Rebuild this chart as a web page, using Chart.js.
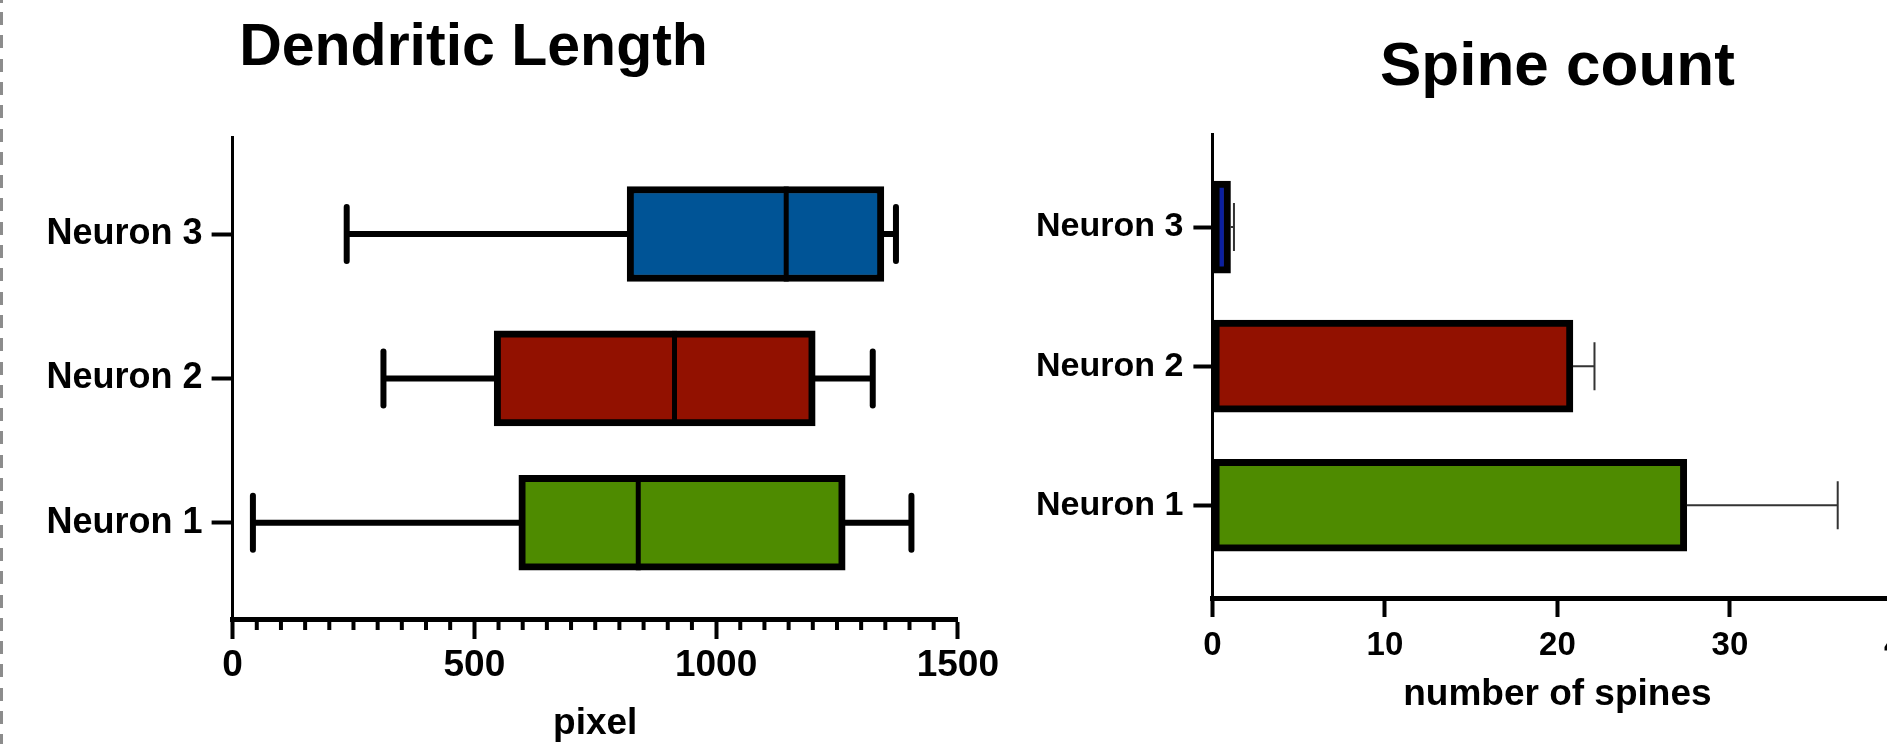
<!DOCTYPE html>
<html>
<head>
<meta charset="utf-8">
<script src="https://cdn.jsdelivr.net/npm/chart.js@4.4.1/dist/chart.umd.min.js"></script>
<style>
  html, body { margin: 0; padding: 0; background: #fff; }
  body { width: 1887px; height: 744px; overflow: hidden; position: relative; }
  #left { position: absolute; left: -12px; top: 0; }
  #right { position: absolute; left: 1000px; top: 0; }
  #edge {
    position: absolute; left: 0; top: 0; width: 3px; height: 744px;
    background: repeating-linear-gradient(to bottom, #8c8c8c 0 13px, transparent 13px 23.3px);
    background-position: 0 12px;
  }
</style>
</head>
<body>
<div id="edge"></div>
<canvas id="left" width="1016" height="760"></canvas>
<canvas id="right" width="960" height="760"></canvas>
<script>
// categories (bottom to top)
const categories = ['Neuron 1', 'Neuron 2', 'Neuron 3'];

// dendritic length box plot (pixel)
const lengthMin = [42, 312, 236];
const lengthQ1 = [592, 541, 816];
const lengthMedian = [839, 914, 1145];
const lengthQ3 = [1267, 1205, 1347];
const lengthMax = [1404, 1324, 1372];

// spine count mean and upper error
const spineMean = [27.5, 20.9, 1.05];
const spineError = [8.75, 1.25, 0.2];

const boxColors = ['#4e8b00', '#921100', '#005496'];
const barColors = ['#4e8b00', '#921100', '#0b1fa0'];

Chart.defaults.font.family = '"Liberation Sans", Arial, sans-serif';
Chart.defaults.font.weight = 'bold';
Chart.defaults.color = '#000';

function categoryAxis(width, fontSize, tickLen, pad){
    return {
        type: 'linear',
        min: 1 / 3,
        max: 11 / 3,
        offset: false,
        afterBuildTicks: (s) => { s.ticks = categories.map((c, i) => ({value: i + 1})); },
        afterFit: (s) => { s.width = width; },
        ticks: {
            callback: (v) => categories[Math.round(v) - 1],
            font: {size: fontSize, weight: 'bold'},
            color: '#000',
            padding: pad
        },
        grid: {offset: false, drawOnChartArea: false, tickLength: tickLen, tickWidth: 4, tickColor: '#000'},
        border: {color: '#000', width: 3}
    };
}

const whiskers = {
    id: 'whiskers',
    beforeDatasetsDraw(chart){
        const {ctx} = chart;
        const x = chart.scales.x, y = chart.scales.y;
        ctx.save();
        ctx.strokeStyle = '#000';
        categories.forEach((c, i) => {
            let py = y.getPixelForValue(i + 1);
            ctx.lineWidth = 6;
            ctx.lineCap = 'butt';
            ctx.beginPath();
            ctx.moveTo(x.getPixelForValue(lengthMin[i]), py);
            ctx.lineTo(x.getPixelForValue(lengthMax[i]), py);
            ctx.stroke();
            ctx.lineCap = 'round';
            [lengthMin[i], lengthMax[i]].forEach((v) => {
                let px = x.getPixelForValue(v);
                ctx.beginPath();
                ctx.moveTo(px, py - 27);
                ctx.lineTo(px, py + 27);
                ctx.stroke();
            });
        });
        ctx.restore();
    },
    afterDatasetsDraw(chart){
        const {ctx} = chart;
        const x = chart.scales.x;
        const meta = chart.getDatasetMeta(0);
        ctx.save();
        ctx.strokeStyle = '#000';
        ctx.lineWidth = 5;
        meta.data.forEach((bar, i) => {
            let px = x.getPixelForValue(lengthMedian[i]);
            ctx.beginPath();
            ctx.moveTo(px, bar.y - bar.height / 2);
            ctx.lineTo(px, bar.y + bar.height / 2);
            ctx.stroke();
        });
        // minor ticks every 50
        ctx.lineWidth = 4;
        for(let v = 50; v < x.max; v += 50){
            if(v % 500 === 0) continue;
            let px = x.getPixelForValue(v);
            ctx.beginPath();
            ctx.moveTo(px, x.top);
            ctx.lineTo(px, x.top + 11);
            ctx.stroke();
        }
        ctx.restore();
    }
};

const errorBars = {
    id: 'errorBars',
    afterDatasetsDraw(chart){
        const {ctx} = chart;
        const x = chart.scales.x, y = chart.scales.y;
        ctx.save();
        ctx.strokeStyle = '#333';
        ctx.lineWidth = 2;
        categories.forEach((c, i) => {
            let py = y.getPixelForValue(i + 1);
            let p0 = x.getPixelForValue(spineMean[i]);
            let p1 = x.getPixelForValue(spineMean[i] + spineError[i]);
            ctx.beginPath();
            ctx.moveTo(p0, py);
            ctx.lineTo(p1, py);
            ctx.moveTo(p1, py - 24);
            ctx.lineTo(p1, py + 24);
            ctx.stroke();
        });
        ctx.restore();
    }
};

new Chart(document.querySelector('#left'), {
    type: 'bar',
    data: {
        datasets: [{
            data: categories.map((c, i) => ({x: [lengthQ1[i], lengthQ3[i]], y: i + 1})),
            backgroundColor: boxColors,
            borderColor: '#000',
            borderWidth: 7,
            borderSkipped: false,
            barThickness: 95
        }]
    },
    options: {
        indexAxis: 'y',
        responsive: false,
        animation: false,
        devicePixelRatio: 1,
        layout: {padding: {left: 0, right: 45, top: 0, bottom: 14}},
        plugins: {
            legend: {display: false},
            tooltip: {enabled: false},
            title: {
                display: true,
                text: 'Dendritic Length',
                color: '#000',
                font: {size: 59, weight: 'bold'},
                padding: {top: 13, bottom: 54}
            }
        },
        scales: {
            x: {
                type: 'linear',
                min: 0,
                max: 1500,
                afterFit: (s) => { s.height = 127; },
                ticks: {stepSize: 500, callback: (v) => String(v), font: {size: 37, weight: 'bold'}, color: '#000', padding: 5},
                grid: {drawOnChartArea: false, tickLength: 20, tickWidth: 4, tickColor: '#000'},
                border: {color: '#000', width: 5},
                title: {display: true, text: 'pixel', color: '#000', font: {size: 37, weight: 'bold'}, padding: {top: 0, bottom: 0}}
            },
            y: categoryAxis(244.6, 36, 21, 9)
        }
    },
    plugins: [whiskers]
});

new Chart(document.querySelector('#right'), {
    type: 'bar',
    data: {
        datasets: [{
            data: categories.map((c, i) => ({x: spineMean[i], y: i + 1})),
            backgroundColor: barColors,
            borderColor: '#000',
            borderWidth: 7,
            borderSkipped: false,
            barThickness: 92
        }]
    },
    options: {
        indexAxis: 'y',
        responsive: false,
        animation: false,
        devicePixelRatio: 1,
        layout: {padding: {left: 0, right: 57.6, top: 0, bottom: 42.6}},
        plugins: {
            legend: {display: false},
            tooltip: {enabled: false},
            title: {
                display: true,
                fullSize: false,
                text: 'Spine count',
                color: '#000',
                font: {size: 62, weight: 'bold'},
                padding: {top: 31, bottom: 29}
            }
        },
        scales: {
            x: {
                type: 'linear',
                min: 0,
                max: 40,
                afterFit: (s) => { s.height = 119.4; },
                ticks: {stepSize: 10, callback: (v) => String(v), font: {size: 33, weight: 'bold'}, color: '#000', padding: 9},
                grid: {drawOnChartArea: false, tickLength: 19, tickWidth: 4, tickColor: '#000'},
                border: {color: '#000', width: 5},
                title: {display: true, text: 'number of spines', color: '#000', font: {size: 37, weight: 'bold'}, padding: {top: 0, bottom: 0}}
            },
            y: categoryAxis(212.4, 34, 19, 10)
        }
    },
    plugins: [errorBars]
});
</script>
</body>
</html>
